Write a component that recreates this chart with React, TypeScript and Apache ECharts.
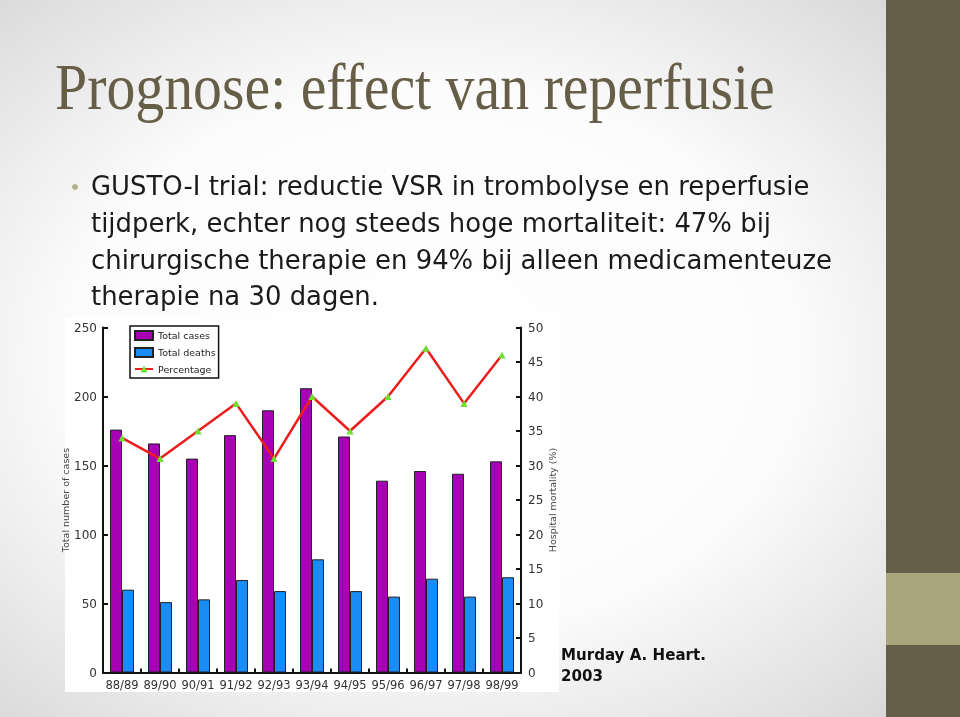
import React, { useEffect, useRef } from "react";
import * as echarts from "echarts";

const categories = ["88/89", "89/90", "90/91", "91/92", "92/93", "93/94", "94/95", "95/96", "96/97", "97/98", "98/99"];
const totalCases = [176, 166, 155, 172, 190, 206, 171, 139, 146, 144, 153];
const totalDeaths = [60, 51, 53, 67, 59, 82, 59, 55, 68, 55, 69];
const percentage = [34, 31, 35, 39, 31, 40, 35, 40, 47, 39, 46];
const seriesNames = ["Total cases", "Total deaths", "Percentage"];
const leftAxis = { min: 0, max: 250, interval: 50, name: "Total number of cases" };
const rightAxis = { min: 0, max: 50, interval: 5, name: "Hospital mortality (%)" };

const titleText = "Prognose: effect van reperfusie";
const bulletLines = [
  "GUSTO-I trial: reductie VSR in trombolyse en reperfusie",
  "tijdperk, echter nog steeds hoge mortaliteit: 47% bij",
  "chirurgische therapie en 94% bij alleen medicamenteuze",
  "therapie na 30 dagen.",
];
const sourceLines = ["Murday A. Heart.", "2003"];

const chartFont = "'DejaVu Sans', sans-serif";
const bodyFont = "'DejaVu Sans', sans-serif";
const titleFont = "'Liberation Serif', serif";

function measure(text: string, font: string): number {
  const ctx = document.createElement("canvas").getContext("2d");
  if (!ctx) return 1;
  ctx.font = font;
  return ctx.measureText(text).width;
}

export default function App() {
  const ref = useRef<HTMLDivElement>(null);
  useEffect(() => {
    if (!ref.current) return;
    const chart = echarts.init(ref.current, undefined, { renderer: "svg" });

    const titleSize = 66;
    const titleScale = 720 / measure(titleText, `${titleSize}px 'Liberation Serif'`);
    const bodySize = 26;
    const bodyScale = 741 / measure(bulletLines[2], `${bodySize}px 'DejaVu Sans'`);
    const srcSize = 16;
    const srcScale = 145 / measure(sourceLines[0], `bold ${srcSize}px 'DejaVu Sans'`);

    const graphics: any[] = [
      {
        type: "rect",
        z: -20,
        silent: true,
        shape: { x: 0, y: 0, width: 960, height: 717 },
        style: {
          fill: new echarts.graphic.RadialGradient(0.45, 0.5, 0.75, [
            { offset: 0, color: "#ffffff" },
            { offset: 0.5, color: "#fcfcfc" },
            { offset: 1, color: "#d2d2d2" },
          ]),
        },
      },
      {
        type: "rect",
        z: -19,
        silent: true,
        shape: { x: 65, y: 318, width: 494, height: 374 },
        style: { fill: "#ffffff" },
      },
      {
        type: "rect",
        z: -18,
        silent: true,
        shape: { x: 886, y: 0, width: 74, height: 717 },
        style: { fill: "#675e48" },
      },
      {
        type: "rect",
        z: -17,
        silent: true,
        shape: { x: 886, y: 573, width: 74, height: 72 },
        style: { fill: "#a9a67e" },
      },
      {
        type: "text",
        x: 55,
        y: 54,
        scaleX: titleScale,
        style: {
          text: titleText,
          x: 0,
          y: 0,
          fill: "#675e48",
          font: `${titleSize}px ${titleFont}`,
        },
      },
      {
        type: "circle",
        shape: { cx: 75, cy: 187, r: 3 },
        style: { fill: "#b3b08c" },
      },
    ];
    bulletLines.forEach((line, i) => {
      graphics.push({
        type: "text",
        x: 91,
        y: 173 + i * 36.8,
        scaleX: bodyScale,
        style: {
          text: line,
          x: 0,
          y: 0,
          fill: "#1a1a1a",
          font: `${bodySize}px ${bodyFont}`,
        },
      });
    });
    sourceLines.forEach((line, i) => {
      graphics.push({
        type: "text",
        x: 561,
        y: 647 + i * 21,
        scaleX: srcScale,
        style: {
          text: line,
          x: 0,
          y: 0,
          fill: "#111111",
          font: `bold ${srcSize}px ${bodyFont}`,
        },
      });
    });

    const axisCommon = {
      axisLine: { show: true, lineStyle: { color: "#111", width: 2 } },
      axisTick: { show: true, inside: true, length: 5, lineStyle: { color: "#111", width: 2 } },
      splitLine: { show: false },
      axisLabel: { color: "#333", fontSize: 12, fontFamily: chartFont },
      nameLocation: "middle" as const,
      nameRotate: 90,
      nameTextStyle: { color: "#444", fontSize: 9.5, fontFamily: chartFont },
    };

    chart.setOption({
      animation: false,
      backgroundColor: "transparent",
      graphic: graphics,
      grid: { left: 103, right: 439, top: 327.5, bottom: 44.5, containLabel: false },
      legend: {
        orient: "vertical",
        left: 130,
        top: 326,
        data: [
          { name: seriesNames[0], icon: "rect" },
          { name: seriesNames[1], icon: "rect" },
          { name: seriesNames[2] },
        ],
        borderColor: "#111",
        borderWidth: 1.5,
        backgroundColor: "#fff",
        padding: [4, 3, 4, 4],
        itemWidth: 18,
        itemHeight: 9,
        itemGap: 6,
        textStyle: { fontSize: 9.5, fontFamily: chartFont, color: "#222" },
      },
      xAxis: {
        type: "category",
        data: categories,
        axisLine: { show: true, lineStyle: { color: "#111", width: 2 } },
        axisTick: { show: true, inside: true, length: 4, lineStyle: { color: "#111", width: 2 } },
        axisLabel: { color: "#333", fontSize: 11.5, fontFamily: chartFont, margin: 6, interval: 0 },
      },
      yAxis: [
        {
          type: "value",
          position: "left",
          min: leftAxis.min,
          max: leftAxis.max,
          interval: leftAxis.interval,
          name: leftAxis.name,
          nameGap: 20,
          ...axisCommon,
          axisLabel: { ...axisCommon.axisLabel, margin: 6 },
        },
        {
          type: "value",
          position: "right",
          min: rightAxis.min,
          max: rightAxis.max,
          interval: rightAxis.interval,
          name: rightAxis.name,
          nameGap: 20,
          ...axisCommon,
          axisLabel: { ...axisCommon.axisLabel, margin: 7 },
        },
      ],
      series: [
        {
          name: seriesNames[0],
          type: "bar",
          data: totalCases,
          barWidth: 12,
          barGap: "0%",
          itemStyle: { color: "#a800b4", borderColor: "#222", borderWidth: 1 },
        },
        {
          name: seriesNames[1],
          type: "bar",
          data: totalDeaths,
          barWidth: 12,
          barGap: "0%",
          itemStyle: { color: "#1a8cf5", borderColor: "#222", borderWidth: 1 },
        },
        {
          name: seriesNames[2],
          type: "line",
          yAxisIndex: 1,
          data: percentage,
          symbol: "triangle",
          symbolSize: 7,
          lineStyle: { color: "#ee1c1c", width: 2.5 },
          itemStyle: { color: "#6ee030" },
          z: 5,
        },
      ],
    });
    return () => chart.dispose();
  }, []);
  return (
    <div
      ref={ref}
      style={{ position: "fixed", left: 0, top: 0, width: 960, height: 717 }}
    />
  );
}
